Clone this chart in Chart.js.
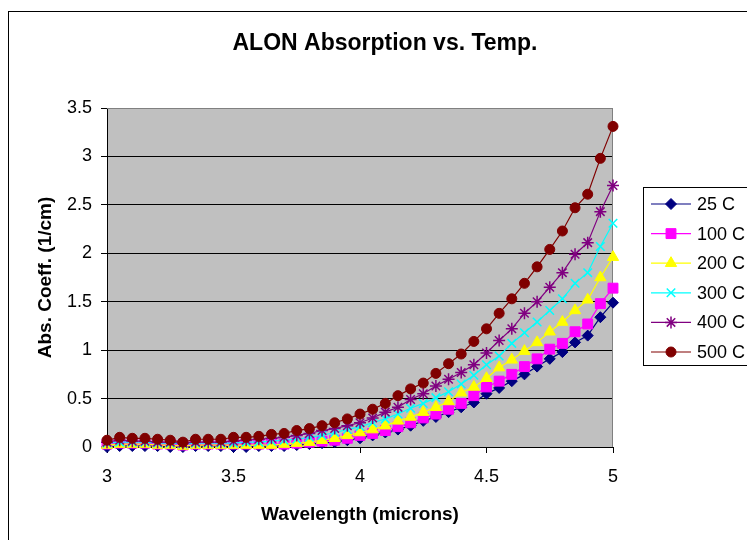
<!DOCTYPE html>
<html lang="en">
<head>
<meta charset="UTF-8">
<title>ALON Absorption vs. Temp.</title>
<script src="https://cdn.jsdelivr.net/npm/chart.js"></script>
<style>
  html, body { margin: 0; padding: 0; background: #fff; }
  #wrap { width: 747px; height: 540px; position: relative; }
</style>
</head>
<body>
<div id="wrap"><canvas id="grafico"></canvas></div>
<script>
// wavelength (microns), one point every 0.05
const wavelength = [3.00, 3.05, 3.10, 3.15, 3.20, 3.25, 3.30, 3.35, 3.40, 3.45,
  3.50, 3.55, 3.60, 3.65, 3.70, 3.75, 3.80, 3.85, 3.90, 3.95,
  4.00, 4.05, 4.10, 4.15, 4.20, 4.25, 4.30, 4.35, 4.40, 4.45,
  4.50, 4.55, 4.60, 4.65, 4.70, 4.75, 4.80, 4.85, 4.90, 4.95, 5.00];

const temps = ['25 C', '100 C', '200 C', '300 C', '400 C', '500 C'];

const abs25 = [0.00, 0.01, 0.01, 0.01, 0.01, 0.00, 0.00, 0.01, 0.01, 0.01,
  0.00, 0.00, 0.01, 0.01, 0.01, 0.02, 0.03, 0.04, 0.05, 0.07,
  0.09, 0.12, 0.15, 0.18, 0.22, 0.27, 0.31, 0.36, 0.41, 0.46,
  0.55, 0.61, 0.68, 0.75, 0.83, 0.91, 0.98, 1.08, 1.15, 1.34, 1.49];
const abs100 = [0.03, 0.04, 0.04, 0.04, 0.03, 0.03, 0.02, 0.03, 0.03, 0.03,
  0.03, 0.03, 0.03, 0.03, 0.03, 0.04, 0.05, 0.06, 0.07, 0.09,
  0.12, 0.14, 0.17, 0.21, 0.25, 0.30, 0.34, 0.39, 0.45, 0.53,
  0.62, 0.68, 0.75, 0.83, 0.91, 1.01, 1.07, 1.19, 1.27, 1.48, 1.64];
const abs200 = [0.02, 0.03, 0.03, 0.03, 0.02, 0.02, 0.01, 0.02, 0.02, 0.02,
  0.02, 0.02, 0.02, 0.02, 0.03, 0.04, 0.05, 0.07, 0.09, 0.12,
  0.15, 0.18, 0.22, 0.27, 0.31, 0.36, 0.41, 0.47, 0.56, 0.62,
  0.71, 0.82, 0.90, 0.99, 1.08, 1.19, 1.29, 1.41, 1.52, 1.75, 1.96];
const abs300 = [0.04, 0.05, 0.05, 0.05, 0.04, 0.04, 0.03, 0.04, 0.04, 0.04,
  0.04, 0.05, 0.05, 0.06, 0.07, 0.08, 0.10, 0.12, 0.15, 0.18,
  0.21, 0.25, 0.29, 0.34, 0.40, 0.45, 0.51, 0.57, 0.65, 0.74,
  0.85, 0.94, 1.07, 1.18, 1.29, 1.41, 1.53, 1.69, 1.80, 2.07, 2.31];
const abs400 = [0.05, 0.07, 0.06, 0.06, 0.05, 0.05, 0.04, 0.05, 0.05, 0.05,
  0.06, 0.07, 0.08, 0.09, 0.10, 0.12, 0.14, 0.17, 0.19, 0.22,
  0.25, 0.30, 0.36, 0.41, 0.49, 0.55, 0.63, 0.70, 0.77, 0.85,
  0.97, 1.10, 1.22, 1.38, 1.50, 1.65, 1.80, 1.99, 2.11, 2.43, 2.70];
const abs500 = [0.07, 0.10, 0.09, 0.09, 0.08, 0.07, 0.05, 0.08, 0.08, 0.08,
  0.10, 0.10, 0.11, 0.13, 0.14, 0.17, 0.19, 0.22, 0.25, 0.29,
  0.34, 0.39, 0.45, 0.53, 0.60, 0.66, 0.76, 0.86, 0.96, 1.09,
  1.22, 1.38, 1.53, 1.69, 1.86, 2.04, 2.23, 2.47, 2.61, 2.98, 3.31];

const yTicks = [0, 0.5, 1, 1.5, 2, 2.5, 3, 3.5];
const xTicks = [3, 3.5, 4, 4.5, 5];

const FONT = "'Liberation Sans', Arial, sans-serif";

// excel-ish look per series
const estilos = [
  { cor: '#000080', ponto: 'rectRot',  raio: 5.5, borda: 1 },
  { cor: '#FF00FF', ponto: 'rect',     raio: 7,   borda: 1 },
  { cor: '#FFFF00', ponto: 'triangle', raio: 6.5, borda: 1 },
  { cor: '#00FFFF', ponto: 'crossRot', raio: 6,   borda: 1.5 },
  { cor: '#800080', ponto: 'star',     raio: 6,   borda: 1.5 },
  { cor: '#800000', ponto: 'circle',   raio: 5,   borda: 1 }
];
const series = [abs25, abs100, abs200, abs300, abs400, abs500];

function pares(valores) {
  return valores.map((v, i) => ({ x: wavelength[i], y: v }));
}

const datasets = series.map((s, i) => ({
  label: temps[i],
  data: pares(s),
  borderColor: estilos[i].cor,
  backgroundColor: estilos[i].cor,
  borderWidth: 1.2,
  pointStyle: estilos[i].ponto,
  pointRadius: estilos[i].raio,
  pointBorderWidth: estilos[i].borda,
  pointBackgroundColor: estilos[i].cor,
  pointBorderColor: estilos[i].cor,
  tension: 0,
  clip: false,
  order: series.length - i
}));

// frame, gray plot area, title and the boxed legend
const enfeites = {
  id: 'enfeites',
  beforeDraw(chart) {
    const ctx = chart.ctx, a = chart.chartArea;
    ctx.save();
    ctx.fillStyle = '#ffffff';
    ctx.fillRect(0, 0, chart.width, chart.height);
    ctx.strokeStyle = '#000000';
    ctx.lineWidth = 1;
    ctx.strokeRect(8.5, 11.5, 900, 700);
    ctx.fillStyle = '#C0C0C0';
    ctx.fillRect(a.left, a.top, a.right - a.left, a.bottom - a.top);
    ctx.restore();
  },
  beforeDatasetsDraw(chart) {
    const ctx = chart.ctx, a = chart.chartArea;
    ctx.save();
    ctx.strokeStyle = '#808080';
    ctx.lineWidth = 1;
    ctx.beginPath();
    ctx.moveTo(a.left, a.top + 0.5);
    ctx.lineTo(a.right - 0.5, a.top + 0.5);
    ctx.lineTo(a.right - 0.5, a.bottom);
    ctx.stroke();
    ctx.restore();
  },
  afterDraw(chart) {
    const ctx = chart.ctx;
    ctx.save();
    ctx.fillStyle = '#000000';
    ctx.font = 'bold 23px ' + FONT;
    ctx.textAlign = 'center';
    ctx.textBaseline = 'middle';
    ctx.fillText('ALON Absorption vs. Temp.', 385, 44);

    // legend
    ctx.strokeStyle = '#000000';
    ctx.lineWidth = 1;
    ctx.strokeRect(643.5, 187.5, 200, 178);
    ctx.font = '18px ' + FONT;
    ctx.textAlign = 'left';
    chart.data.datasets.forEach((ds, i) => {
      const y = 204 + i * 29.6;
      ctx.strokeStyle = ds.borderColor;
      ctx.fillStyle = ds.borderColor;
      ctx.lineWidth = 1.2;
      ctx.beginPath();
      ctx.moveTo(651, y);
      ctx.lineTo(691, y);
      ctx.stroke();
      ctx.lineWidth = ds.pointBorderWidth;
      Chart.helpers.drawPoint(ctx, {
        pointStyle: ds.pointStyle,
        radius: ds.pointRadius,
        borderWidth: ds.pointBorderWidth,
        rotation: 0
      }, 671, y);
      ctx.fillStyle = '#000000';
      ctx.fillText(ds.label, 697, y + 1);
    });
    ctx.restore();
  }
};

const config = {
  type: 'line',
  data: { datasets: datasets },
  options: {
    responsive: false,
    animation: false,
    layout: { padding: { top: 108, right: 134, bottom: 0, left: 0 } },
    plugins: {
      legend: { display: false },
      title: { display: false },
      tooltip: { enabled: false }
    },
    scales: {
      x: {
        type: 'linear',
        min: 3,
        max: 5,
        afterBuildTicks: (s) => { s.ticks = xTicks.map(v => ({ value: v })); },
        afterFit: (s) => { s.height = 93; },
        ticks: {
          color: '#000000',
          padding: 13,
          font: { family: FONT, size: 18 },
          maxRotation: 0,
          callback: (v) => String(v)
        },
        grid: {
          drawOnChartArea: false,
          drawTicks: true,
          tickLength: 6,
          tickColor: '#000000'
        },
        border: { color: '#000000', width: 1 },
        title: {
          display: true,
          text: 'Wavelength (microns)',
          color: '#000000',
          font: { family: FONT, size: 19, weight: 'bold' },
          padding: { top: 0, bottom: 14 }
        }
      },
      y: {
        min: 0,
        max: 3.5,
        afterBuildTicks: (s) => { s.ticks = yTicks.map(v => ({ value: v })); },
        afterFit: (s) => { s.width = 107; },
        ticks: {
          color: '#000000',
          padding: 9,
          font: { family: FONT, size: 18 },
          callback: (v) => String(v)
        },
        grid: {
          color: (c) => (c.tick && c.tick.value === 3.5) ? '#808080' : '#000000',
          lineWidth: 1,
          tickLength: 6,
          tickColor: '#000000'
        },
        border: { color: '#000000', width: 1 },
        title: {
          display: true,
          text: 'Abs. Coeff. (1/cm)',
          color: '#000000',
          font: { family: FONT, size: 19, weight: 'bold' },
          padding: { top: 34, bottom: 0 }
        }
      }
    }
  },
  plugins: [enfeites]
};

const canvas = document.getElementById('grafico');
canvas.width = 747;
canvas.height = 540;
let myChart = new Chart(canvas, config);
</script>
</body>
</html>
